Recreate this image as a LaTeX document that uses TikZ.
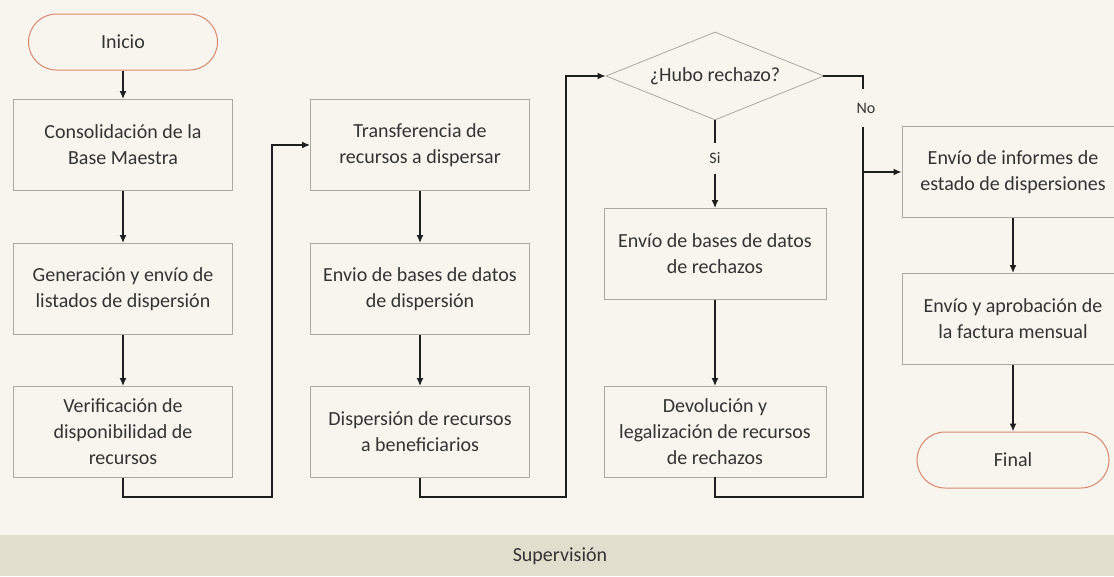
\documentclass[tikz,border=0pt]{standalone}
\usepackage{fontspec}
\setmainfont{Carlito}
\usetikzlibrary{shapes.geometric,arrows.meta}
\definecolor{bg}{HTML}{F7F5EE}
\definecolor{bandc}{HTML}{E2DECD}
\definecolor{termc}{HTML}{D8876E}
\definecolor{boxline}{HTML}{ABA8A0}
\definecolor{txt}{HTML}{333333}
\definecolor{ink}{HTML}{1E1E1E}
\tikzset{
  stepbox/.style={draw=boxline, line width=0.8pt, fill=bg, minimum width=219pt, minimum height=91pt,
    align=center, text=txt, font=\fontsize{20}{26}\selectfont, inner sep=0pt},
  termbox/.style={draw=termc, line width=1pt, fill=bg, rounded corners=28pt, minimum width=189pt,
    minimum height=56pt, text=txt, font=\fontsize{20}{24}\selectfont, inner sep=0pt},
  decision/.style={diamond, aspect=2.5, draw=boxline, line width=0.8pt, fill=bg, minimum width=218pt,
    minimum height=88pt, inner sep=0pt, text=txt, font=\fontsize{20}{24}\selectfont},
  arr/.style={draw=ink, line width=2pt, -{Latex[length=8pt,width=7pt]}},
  conn/.style={draw=ink, line width=2pt, line cap=rect},
  lbl/.style={fill=bg, text=txt, font=\fontsize{16}{18}\selectfont, inner xsep=3pt, inner ysep=0pt},
  bandtext/.style={text=txt, font=\fontsize{20}{24}\selectfont}
}
\begin{document}
\begin{tikzpicture}[x=1pt,y=-1pt]
\useasboundingbox (0,0) rectangle (1114,576);
\clip (0,0) rectangle (1114,576);
\fill[bg] (0,0) rectangle (1114,576);
\fill[bandc] (0,535) rectangle (1114,576);
\node[bandtext] (sup) at (560,556) {Supervisión};

% column 1
\node[termbox] (ini) at (123,42) {Inicio};
\node[stepbox] (a1) at (123,145) {Consolidación de la\\Base Maestra};
\node[stepbox] (a2) at (123,289) {Generación y envío de\\listados de dispersión};
\node[stepbox] (a3) at (123,432) {Verificación de\\disponibilidad de\\recursos};
% column 2
\node[stepbox] (b1) at (420,145) {Transferencia de\\recursos a dispersar};
\node[stepbox] (b2) at (420,289) {Envio de bases de datos\\de dispersión};
\node[stepbox] (b3) at (420,432) {Dispersión de recursos\\a beneficiarios};
% column 3
\node[decision] (d) at (715,76) {¿Hubo rechazo?};
\node[stepbox, minimum width=222pt] (c1) at (715,254) {Envío de bases de datos\\de rechazos};
\node[stepbox, minimum width=222pt] (c2) at (715,432) {Devolución y\\legalización de recursos\\de rechazos};
% column 4
\node[stepbox, minimum width=222pt] (e1) at (1013,172) {Envío de informes de\\estado de dispersiones};
\node[stepbox, minimum width=222pt] (e2) at (1013,319) {Envío y aprobación de\\la factura mensual};
\node[termbox, minimum width=192pt] (fin) at (1013,460) {Final};

% connectors
\coordinate (k1) at (272,497);
\coordinate (k2) at (566,497);
\coordinate (k3) at (863,497);
\coordinate (n1) at (863,172);

\draw[arr] (ini.south) -- (a1.north);
\draw[arr] (a1.south) -- (a2.north);
\draw[arr] (a2.south) -- (a3.north);
\draw[arr] (a3.south) |- (k1) |- (b1.west);
\draw[arr] (b1.south) -- (b2.north);
\draw[arr] (b2.south) -- (b3.north);
\draw[arr] (b3.south) |- (k2) |- (d.west);
\draw[arr] (d.south) -- (c1.north);
\draw[arr] (c1.south) -- (c2.north);
\draw[conn] (c2.south) |- (k3) -- (n1);
\draw[conn] (d.east) -| (n1);
\draw[arr] (n1) -- (e1.west);
\draw[arr] (e1.south) -- (e2.north);
\draw[arr] (e2.south) -- (fin.north);

\node[lbl, minimum height=31pt] (si) at (715,158) {Si};
\node[lbl, minimum height=38pt] (no) at (866,108) {No};
\end{tikzpicture}
\end{document}
